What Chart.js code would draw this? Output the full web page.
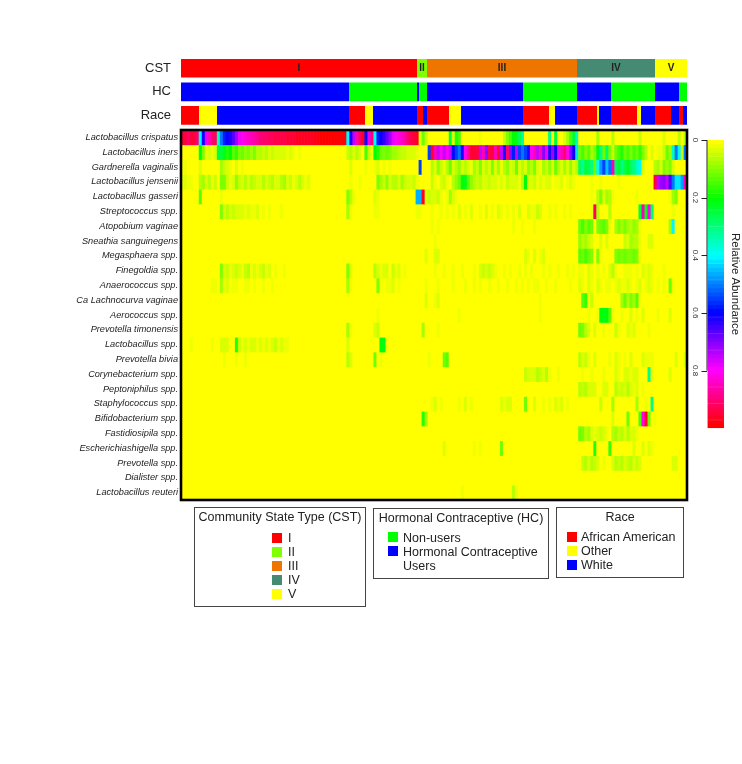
<!DOCTYPE html>
<html><head><meta charset="utf-8">
<script src="https://cdn.jsdelivr.net/npm/chart.js@4"></script>
<style>
html,body{margin:0;padding:0;background:#fff;width:742px;height:764px;overflow:hidden}
#page{position:relative;width:742px;height:764px;font-family:"Liberation Sans",Arial,sans-serif;color:#222;filter:blur(0.4px)}
canvas{position:absolute}
.box{position:absolute;box-sizing:border-box;border:1px solid #444;background:#fff}
.t{position:absolute;font-size:12.5px;line-height:14px;white-space:nowrap}
.s{position:absolute;width:10px;height:10px}
</style></head><body><div id="page">
<canvas id="annot" style="left:0px;top:0px" width="700" height="145"></canvas>
<canvas id="heat" style="left:0px;top:120px" width="700" height="390"></canvas>
<canvas id="bar" style="left:660px;top:120px" width="82" height="320"></canvas>
</div>
<script>
const taxa=["Lactobacillus crispatus","Lactobacillus iners","Gardnerella vaginalis","Lactobacillus jensenii","Lactobacillus gasseri","Streptococcus spp.","Atopobium vaginae","Sneathia sanguinegens","Megasphaera spp.","Finegoldia spp.","Anaerococcus spp.","Ca Lachnocurva vaginae","Aerococcus spp.","Prevotella timonensis","Lactobacillus spp.","Prevotella bivia","Corynebacterium spp.","Peptoniphilus spp.","Staphylococcus spp.","Bifidobacterium spp.","Fastidiosipila spp.","Escherichiashigella spp.","Prevotella spp.","Dialister spp.","Lactobacillus reuteri"];

// relative abundance (percent) per sample column
const crispatus=[95,95,90,95,95,90,40,60,78,85,90,92,35,50,58,60,62,66,72,78,80,82,84,85,87,88,90,90,
91,92,92,93,93,94,94,95,95,95,96,96,97,97,97,97,98,98,99,99,99,100,100,100,100,100,100,40,
60,75,85,92,97,60,78,90,40,58,60,63,68,72,78,80,82,84,87,90,93,95,97,3,12,5,0,0,
0,0,0,0,0,25,3,18,15,0,0,0,0,0,0,2,0,0,0,0,0,0,0,5,10,15,20,22,
27,33,0,0,0,0,0,0,0,0,30,0,25,0,0,4,8,15,25,35,0,0,0,0,0,0,8,0,
0,0,0,7,0,0,0,0,0,0,0,0,5,0,0,0,0,0,0,0,3,0,0,0,0,6,0,6];
const iners=[0,0,0,0,0,0,20,10,2,3,2,3,25,25,22,18,20,14,16,10,12,9,11,8,10,7,6,5,
6,4,5,3,4,3,3,2,3,2,1,2,1,1,0,0,0,0,0,0,0,0,0,0,0,0,0,5,
7,3,6,3,0,15,5,2,20,18,12,10,12,10,8,8,6,5,5,4,4,3,2,0,0,0,55,95,
85,75,80,75,80,75,60,55,50,62,80,88,95,95,95,75,85,70,93,95,85,95,75,62,90,70,58,75,
55,50,55,62,80,85,75,85,70,78,62,72,60,78,85,90,80,70,60,42,12,15,10,14,8,10,22,30,
12,28,10,5,12,15,18,12,15,10,15,12,17,10,6,0,3,0,2,2,5,12,8,35,50,40,5,50];
const gardnerella=[0,2,0,0,0,0,4,1,1,1,0,1,0,8,5,3,2,1,3,1,2,1,1,1,1,1,1,1,
1,1,1,1,1,0,1,1,0,1,0,0,1,0,0,0,0,0,0,0,0,0,0,0,0,0,0,1,
3,1,1,1,0,2,1,0,2,3,1,2,1,2,1,1,1,1,1,1,1,0,0,55,0,0,0,6,
4,9,5,2,7,12,3,6,9,3,7,4,2,8,5,11,3,7,3,10,4,8,2,6,9,3,5,12,
4,7,3,9,6,11,3,2,8,5,9,4,12,6,3,8,4,9,3,7,28,32,25,27,30,12,40,48,
55,45,52,85,28,24,30,26,22,28,30,35,40,3,0,0,0,6,8,3,10,8,11,3,0,0,0,0];
const jensenii=[2,3,2,2,1,0,6,8,4,7,2,5,0,10,11,5,2,3,9,5,4,7,4,6,5,3,4,6,
4,5,7,4,3,6,8,3,5,2,4,6,3,2,4,1,1,0,0,0,1,0,0,0,0,0,0,1,
2,1,1,2,0,0,1,1,1,10,8,5,9,4,7,6,4,8,5,4,3,5,2,0,0,0,0,5,
2,1,3,5,2,1,6,9,12,20,22,14,9,7,5,7,4,3,5,3,4,2,3,2,5,3,4,3,
2,6,20,4,3,5,2,4,2,3,3,1,2,2,3,1,2,3,2,1,0,1,0,1,2,0,1,2,
1,0,1,0,1,2,1,0,0,1,0,0,0,0,0,0,0,95,75,72,70,75,65,50,42,42,48,85];
const gasseri=[1,0,0,1,0,0,14,1,0,1,0,1,0,2,1,1,1,0,1,1,0,1,1,0,0,1,0,0,
0,1,0,0,1,0,0,0,0,0,0,0,0,0,0,0,0,0,0,0,0,0,0,0,0,0,0,10,
6,2,1,0,0,1,0,1,3,2,1,1,1,0,1,0,1,0,0,0,0,1,47,47,97,3,5,4,
3,5,2,1,2,8,4,2,0,1,1,0,1,0,0,1,0,1,0,1,0,0,0,1,0,0,1,0,
0,1,0,0,0,1,0,0,1,0,0,0,1,0,0,0,0,0,1,0,0,0,1,0,2,0,6,10,
3,8,6,2,1,1,1,0,1,1,0,2,1,0,1,0,0,0,1,1,0,1,2,8,10,1,0,0];
const streptococcus=[0,0,0,0,0,0,1,0,0,0,0,0,0,10,3,6,3,5,4,3,3,2,3,2,2,3,1,2,
1,2,1,1,1,2,1,1,0,0,1,0,0,0,0,0,0,0,0,0,0,0,0,0,0,0,0,8,
2,1,1,1,1,0,1,0,2,2,1,1,1,1,1,1,0,1,0,0,0,0,2,2,1,0,0,2,
1,0,2,1,2,1,2,1,3,0,2,1,4,1,1,2,1,3,1,2,1,4,2,1,2,1,2,1,
3,1,1,4,2,2,5,3,1,1,2,1,2,1,1,2,1,2,1,1,1,1,0,1,2,92,6,0,
0,0,6,1,0,0,0,0,0,1,0,0,25,85,22,80,28,1,0,1,1,0,0,2,1,0,0,0];
const atopobium=[0,0,0,0,0,0,0,0,0,0,0,0,0,1,0,0,0,0,0,0,0,0,0,0,0,0,0,0,
0,0,0,0,0,0,0,0,0,0,0,0,0,0,0,0,0,0,0,0,0,0,0,0,0,0,0,1,
0,0,0,0,0,0,0,0,1,0,0,0,0,0,0,0,0,0,0,0,0,0,0,0,0,0,0,2,
1,2,1,0,0,0,1,0,0,0,0,0,1,0,0,0,0,0,0,0,0,0,0,1,0,0,2,1,
1,2,0,1,1,2,0,0,0,0,0,0,0,1,0,0,0,0,0,0,12,15,10,13,12,1,10,12,
14,10,2,0,8,10,8,10,8,7,9,8,2,0,0,0,0,0,0,1,0,0,8,40,1,0,0,0];
const sneathia=[0,0,0,0,0,0,0,0,0,0,0,0,0,0,1,0,0,0,0,0,0,0,0,0,0,0,0,0,
0,0,0,0,0,0,0,0,0,0,0,0,0,0,0,0,0,0,0,0,0,0,0,0,0,0,0,1,
0,0,0,0,0,0,0,0,0,1,0,0,0,0,0,0,0,0,0,0,0,0,0,0,0,0,0,1,
2,1,1,1,1,0,0,0,0,0,0,1,0,0,0,1,0,0,0,0,0,0,0,0,0,0,1,0,
0,0,0,1,0,0,0,1,0,0,0,0,1,0,0,1,0,0,0,0,9,7,8,5,3,1,1,4,
1,3,0,1,0,1,1,5,4,8,6,7,2,1,0,4,3,0,0,0,1,0,0,0,0,0,0,0];
const megasphaera=[0,0,0,0,0,0,0,0,0,0,0,0,0,0,0,0,0,0,0,0,0,0,0,0,0,0,0,0,
0,0,0,0,0,0,0,0,0,0,0,0,0,0,0,0,0,0,0,0,0,0,0,0,0,0,0,0,
0,0,0,0,0,0,0,0,0,0,0,0,0,0,0,0,0,0,0,0,0,0,0,0,0,4,0,0,
3,4,0,0,0,0,0,0,0,0,0,0,0,0,0,0,0,0,0,0,0,0,0,0,0,0,0,0,
0,0,3,2,0,3,0,2,3,0,1,0,0,0,0,0,0,0,0,0,14,12,15,12,10,1,10,2,
0,1,0,1,10,12,10,12,11,10,12,10,2,0,0,0,0,0,0,0,0,0,0,0,0,0,0,0];
const finegoldia=[1,0,0,0,0,0,0,0,0,0,0,1,1,10,3,5,2,4,5,3,2,5,6,2,3,2,4,5,
2,3,1,2,1,1,2,1,1,0,0,0,0,0,0,0,0,0,0,0,0,0,0,0,0,0,0,10,
3,1,0,1,0,1,0,1,6,4,2,3,4,1,5,2,3,1,2,1,1,1,0,0,1,0,0,1,
2,1,1,2,1,1,2,1,1,2,1,1,1,2,1,4,5,3,5,3,2,1,1,2,1,2,1,1,
2,1,2,1,2,1,1,1,2,1,2,1,1,2,1,1,2,1,2,1,2,2,1,3,2,1,2,1,
2,1,3,6,2,1,1,2,2,2,1,2,1,3,2,3,2,1,1,1,2,1,1,0,0,0,0,0];
const anaerococcus=[0,0,0,0,0,0,0,0,0,0,2,2,1,8,2,3,1,2,2,1,1,2,2,1,2,1,1,2,
1,1,2,1,1,1,1,1,1,0,1,0,0,0,0,0,0,0,0,0,0,0,0,0,0,0,0,8,
2,1,0,0,0,1,0,0,1,10,2,1,2,2,3,1,2,1,1,1,1,1,0,0,1,2,0,1,
1,2,1,1,1,1,2,1,1,1,2,1,1,2,1,2,1,1,2,1,1,2,1,1,2,1,1,2,
1,2,1,2,1,2,2,1,1,2,1,1,2,1,1,1,1,2,1,1,3,2,1,4,2,1,4,2,
1,2,2,1,2,3,2,2,3,2,1,2,3,1,2,3,2,1,2,1,2,1,12,2,0,0,0,0];
const lachnocurva=[0,0,0,0,0,0,0,0,0,0,0,0,0,0,0,0,0,0,0,0,0,0,0,0,0,0,0,0,
0,0,0,0,0,0,0,0,0,0,0,0,0,0,0,0,0,0,0,0,0,0,0,0,0,0,0,0,
0,0,0,0,0,0,0,0,0,0,0,0,0,0,0,0,0,0,0,0,0,0,0,0,0,4,0,0,
2,3,0,0,0,0,0,0,0,0,0,0,0,0,0,0,0,0,0,0,0,0,0,0,0,0,0,0,
0,0,1,0,1,0,0,2,0,0,0,0,0,0,0,1,0,0,0,0,1,14,16,2,5,1,0,0,
0,0,0,1,0,0,8,12,7,10,8,14,2,0,0,0,0,0,0,0,0,0,0,0,0,0,0,0];
const aerococcus=[0,0,0,0,0,0,0,0,0,0,0,0,0,0,0,0,0,0,0,0,0,0,0,0,0,0,0,0,
0,0,0,0,0,0,0,0,0,0,0,0,0,0,0,0,0,0,0,0,0,0,0,0,0,0,0,1,
1,0,0,0,0,0,0,0,1,2,0,0,0,0,0,0,0,0,0,0,0,0,0,0,0,1,1,0,
1,1,0,0,0,0,0,0,2,0,0,0,1,0,1,1,1,0,0,0,0,0,1,0,0,0,0,0,
0,0,1,0,1,0,1,2,1,0,0,0,0,0,0,0,0,0,0,0,1,1,1,2,1,1,2,20,
22,20,14,2,1,1,2,1,1,3,1,2,1,3,1,1,0,1,2,0,1,0,3,1,1,0,1,0];
const timonensis=[0,0,0,0,0,0,0,0,0,0,0,0,0,0,0,0,0,0,0,0,0,0,0,0,0,0,0,0,
0,0,0,0,0,0,0,0,0,0,0,0,0,0,0,0,0,0,0,0,0,0,0,0,0,0,0,8,
2,0,0,0,0,0,0,0,3,5,0,0,0,0,0,0,0,0,0,0,0,0,0,0,8,0,0,0,
1,2,1,0,0,1,0,0,0,0,0,0,0,0,1,0,0,0,0,0,0,0,1,0,0,0,0,0,
0,1,0,0,0,1,0,0,0,0,0,1,0,0,0,0,0,0,0,0,12,10,6,4,1,3,1,0,
2,0,1,1,5,2,1,1,3,2,4,1,0,1,1,2,0,0,1,0,0,0,0,0,0,0,0,0];
const lactoSpp=[0,0,0,2,0,0,0,1,0,0,2,0,0,3,4,3,1,1,18,5,2,3,2,4,3,2,4,2,
4,2,3,5,2,3,2,2,1,1,0,0,0,0,0,0,0,0,0,0,0,0,0,0,0,0,0,3,
1,0,1,0,0,0,0,0,0,1,20,22,2,1,1,0,0,0,0,0,0,0,0,0,0,0,0,0,
0,0,0,0,0,0,0,0,0,0,0,0,0,0,0,0,0,0,0,0,0,0,0,0,0,0,0,0,
0,0,0,0,0,0,0,0,0,0,0,0,0,0,0,0,0,0,0,0,0,0,0,0,0,0,0,0,
0,0,0,0,0,0,0,0,0,0,0,0,0,0,0,0,0,0,0,0,0,0,0,0,0,0,0,0];
const bivia=[0,0,0,0,0,0,0,0,0,0,0,0,0,1,2,0,1,0,2,1,0,2,1,1,0,1,0,0,
0,0,0,0,0,0,0,0,0,0,0,0,0,0,0,0,0,0,0,0,0,0,0,0,0,0,0,6,
4,0,1,0,0,0,0,0,12,1,2,1,1,0,0,0,0,0,0,0,0,0,1,0,0,0,2,0,
1,1,1,12,14,1,0,0,0,0,0,0,0,0,0,0,0,0,0,0,1,0,0,0,0,0,0,1,
0,1,0,0,1,0,0,1,0,0,0,1,0,0,0,0,0,0,0,0,6,4,5,2,1,3,1,0,
1,1,2,0,3,2,1,2,1,3,1,1,1,3,2,2,2,0,0,1,0,0,1,0,3,0,0,4];
const corynebacterium=[0,0,0,0,0,0,0,0,0,0,0,0,0,0,0,0,0,0,0,0,0,0,0,0,0,0,0,0,
0,0,0,0,0,0,0,0,0,0,0,0,0,0,0,0,0,0,0,0,0,0,0,0,0,0,0,0,
0,0,0,0,0,0,0,0,0,0,0,0,0,0,0,0,0,0,0,0,0,0,0,0,0,0,0,0,
0,0,0,0,0,0,0,0,0,0,0,0,0,0,0,0,0,0,0,0,0,0,1,0,1,1,1,0,
1,1,5,3,4,3,6,5,4,6,2,0,1,2,0,0,0,0,0,0,1,2,1,1,2,1,1,1,
2,1,1,1,3,2,1,3,3,2,4,3,1,1,1,30,2,1,0,0,0,1,3,0,0,0,0,0];
const peptoniphilus=[0,0,0,0,0,0,0,0,0,0,0,0,0,0,0,0,0,0,0,0,0,0,0,0,0,0,0,0,
0,0,0,0,0,0,0,0,0,0,0,0,0,0,0,0,0,0,0,0,0,0,0,0,0,0,0,0,
0,0,0,0,0,0,0,0,0,0,0,0,0,0,0,0,0,0,0,0,0,0,0,0,1,0,0,0,
0,0,0,0,0,0,0,0,0,0,0,0,0,0,0,0,0,0,0,0,0,0,0,0,1,0,0,0,
0,0,1,0,1,0,0,0,1,0,1,0,0,0,1,0,0,0,0,1,7,5,7,4,3,3,1,1,
4,3,1,1,6,4,5,3,6,4,2,3,1,2,1,1,0,0,0,0,0,0,0,0,0,0,0,0];
const staphylococcus=[0,0,0,0,0,0,0,0,0,0,0,0,0,0,0,0,0,0,0,0,0,0,0,0,0,0,0,0,
0,0,0,0,0,0,0,0,0,0,0,0,0,0,0,0,0,0,0,0,0,0,0,0,0,0,0,0,
0,0,0,0,0,0,0,0,0,0,0,0,0,0,0,0,0,0,0,0,0,0,0,0,0,0,0,2,
3,1,2,0,0,0,0,0,2,1,3,1,2,0,0,0,0,0,0,0,0,0,3,2,4,3,0,0,
0,0,12,0,0,3,1,0,2,0,2,0,3,2,3,0,2,0,0,0,0,0,1,0,0,0,0,5,
0,0,0,8,0,0,0,0,0,1,1,8,1,1,2,1,30,1,0,0,0,0,0,0,0,0,0,0];
const bifidobacterium=[0,0,0,0,0,0,0,0,0,0,0,0,0,0,0,0,0,0,0,0,0,0,0,0,0,0,0,0,
0,0,0,0,0,0,0,0,0,0,0,0,0,0,0,0,0,0,0,0,0,0,0,0,0,0,0,0,
0,0,0,0,0,0,0,0,0,0,0,0,0,0,0,0,0,0,0,0,0,0,0,0,18,8,0,0,
0,0,0,0,0,0,0,0,0,0,0,0,0,0,0,0,0,0,0,0,0,0,0,0,0,0,0,0,
0,0,0,0,0,0,0,0,0,0,0,0,0,0,0,0,0,0,0,0,0,0,0,0,0,0,0,0,
0,0,0,3,0,0,0,0,12,0,0,0,15,80,97,12,1,2,0,0,0,0,0,0,1,0,0,0];
const fastidiosipila=[0,0,0,0,0,0,0,0,0,0,0,0,0,0,0,0,0,0,0,0,0,0,0,0,0,0,0,0,
0,0,0,0,0,0,0,0,0,0,0,0,0,0,0,0,0,0,0,0,0,0,0,0,0,0,0,0,
0,0,0,0,0,0,0,0,0,0,0,0,0,0,0,0,0,0,0,0,0,0,0,0,0,0,0,0,
0,0,0,0,0,0,0,0,0,0,0,0,0,0,0,0,0,0,0,0,0,0,0,0,0,0,0,0,
0,0,0,0,0,0,0,0,0,0,0,0,0,0,0,0,0,0,0,0,12,10,7,8,4,2,3,5,
3,2,1,6,8,5,7,4,6,3,3,2,0,0,0,0,0,0,0,0,0,0,0,0,0,0,0,0];
const escherichia=[0,0,0,0,0,0,0,0,0,0,0,0,0,0,0,0,0,0,0,0,0,0,0,0,0,0,0,0,
0,0,0,0,0,0,0,0,0,0,0,0,0,0,0,0,0,0,0,0,0,0,0,0,0,0,0,0,
0,0,0,0,0,0,0,0,0,0,0,0,0,0,0,0,0,0,0,0,0,0,0,0,0,0,0,0,
0,0,0,3,0,0,0,0,0,0,0,0,0,2,0,2,0,0,0,0,0,0,12,0,0,0,0,0,
0,0,0,0,0,0,0,0,0,0,0,0,0,0,0,0,0,0,0,0,0,0,0,0,0,18,0,0,
0,0,17,0,0,0,0,0,0,0,3,0,0,3,0,3,2,0,0,0,0,0,0,0,0,0,0,0];
const prevotellaSpp=[0,0,0,0,0,0,0,0,0,0,0,0,0,0,0,0,0,0,0,0,0,0,0,0,0,0,0,0,
0,0,0,0,0,0,0,0,0,0,0,0,0,0,0,0,0,0,0,0,0,0,0,0,0,0,0,0,
0,0,0,0,0,0,0,0,0,0,0,0,0,0,0,0,0,0,0,0,0,0,0,0,0,0,0,0,
0,0,0,0,0,0,0,0,0,0,0,0,0,0,0,0,0,0,0,0,0,0,1,0,0,0,0,0,
0,0,0,0,0,0,0,0,0,0,0,0,0,0,0,0,0,0,0,0,1,5,7,4,6,5,3,0,
2,1,0,3,6,5,7,4,5,6,3,5,4,1,0,0,0,0,0,0,0,0,0,3,3,0,0,0];
const dialister=[0,0,0,0,0,0,0,0,0,0,0,0,0,0,0,0,0,0,0,0,0,0,0,0,0,0,0,0,
0,0,0,0,0,0,0,0,0,0,0,0,0,0,0,0,0,0,0,0,0,0,0,0,0,0,0,0,
0,0,0,0,0,0,0,0,0,0,0,0,0,0,0,0,0,0,0,0,0,0,0,0,0,0,0,0,
0,0,0,0,0,0,0,0,0,0,0,0,0,0,0,0,0,0,0,0,0,0,1,0,0,0,0,0,
0,0,0,0,0,0,0,0,0,0,0,0,0,0,0,0,0,0,0,0,1,1,1,1,1,1,1,0,
1,1,0,1,1,1,1,1,1,1,1,1,1,0,0,0,0,0,0,0,0,0,0,0,0,0,0,0];
const reuteri=[0,0,0,0,0,0,0,0,0,0,0,0,0,0,0,0,1,0,0,0,0,0,0,0,0,0,0,0,
0,0,0,0,0,0,0,0,0,0,0,0,0,0,0,0,0,0,0,0,0,0,0,0,0,0,0,0,
0,0,0,0,0,0,0,0,0,0,0,0,0,0,0,0,0,0,0,0,0,0,0,0,0,0,0,0,
0,0,0,0,0,0,0,0,0,2,0,0,0,1,0,0,0,0,0,0,0,0,0,0,0,0,7,2,
0,0,0,0,0,0,0,0,0,0,0,0,0,0,0,0,0,0,0,0,0,0,0,0,0,0,0,0,
0,0,0,0,0,0,0,0,0,0,0,0,0,0,0,0,0,0,0,0,0,0,0,0,0,0,0,0];
const abundance=[crispatus,iners,gardnerella,jensenii,gasseri,streptococcus,atopobium,sneathia,megasphaera,finegoldia,anaerococcus,lachnocurva,aerococcus,timonensis,lactoSpp,bivia,corynebacterium,peptoniphilus,staphylococcus,bifidobacterium,fastidiosipila,escherichia,prevotellaSpp,dialister,reuteri];

// sample annotations: consecutive runs of samples
const cstLevels=["I","II","III","IV","V"];
const cstCounts=[118,5,75,39,16];
const hcLevels=["HCU","NU","HCU","NU","HCU","NU","HCU","NU","HCU","NU"];
const hcCounts=[84,34,1,4,48,27,17,22,12,4];
const raceLevels=["AA","O","W","AA","O","W","AA","W","AA","O","W","AA","O","W","AA","O","W","AA","O","W","AA","W","AA","W"];
const raceCounts=[9,9,66,8,4,22,3,2,11,6,31,13,3,11,10,1,6,13,2,7,8,4,2,2];

const cstColors={I:"#ff0000",II:"#7fff00",III:"#ee7600",IV:"#458b74",V:"#ffff00"};
const hcColors={NU:"#00ff00",HCU:"#0000ff"};
const raceColors={AA:"#ff0000",O:"#ffff00",W:"#0000ff"};

const colorTicks=[0,0.2,0.4,0.6,0.8];
const colorBins=70;

const FONT='"Liberation Sans",Arial,sans-serif';
Chart.defaults.font.family=FONT;
Chart.defaults.animation=false;
Chart.defaults.responsive=false;
Chart.defaults.plugins.legend.display=false;
Chart.defaults.plugins.tooltip.enabled=false;

const stops=[[255,255,0],[0,255,0],[0,255,255],[0,0,255],[255,0,255],[255,0,0]];
function ramp(v){
  const b=Math.min(colorBins-1,Math.floor(v*colorBins))/(colorBins-1);
  const p=b*5,i=Math.min(4,Math.floor(p)),f=p-i;
  const c=stops[i].map((s,k)=>Math.round(s+(stops[i+1][k]-s)*f));
  return `rgb(${c[0]},${c[1]},${c[2]})`;
}

// annotation tracks
const tracks=["CST","HC","Race"];
function runsToDatasets(levels,counts,colors,row){
  return levels.map((l,i)=>{const d=[0,0,0];d[row]=counts[i];
    return {label:l,data:d,backgroundColor:colors[l],stack:"a",barPercentage:0.79,categoryPercentage:1,borderWidth:0};});
}
const totalUnits=cstCounts.reduce((a,b)=>a+b,0);
new Chart(document.getElementById("annot"),{
  type:"bar",
  data:{labels:tracks,datasets:[...runsToDatasets(cstLevels,cstCounts,cstColors,0),...runsToDatasets(hcLevels,hcCounts,hcColors,1),...runsToDatasets(raceLevels,raceCounts,raceColors,2)]},
  options:{indexAxis:"y",layout:{padding:{top:56.5,bottom:1.3,right:13}},
    scales:{
      x:{stacked:true,min:0,max:totalUnits,display:false},
      y:{type:"category",stacked:true,offset:true,grid:{display:false,drawTicks:false},border:{display:false},
         afterFit:s=>{s.width=181},
         ticks:{color:"#222",padding:10,font:{size:13}}}
    }},
  plugins:[{id:"cstText",afterDatasetsDraw(ch){
    const c=ch.ctx,x=ch.scales.x,y=ch.scales.y;let a=0;
    c.save();c.fillStyle="#222";c.font='bold 10px '+FONT;c.textAlign="center";c.textBaseline="middle";
    cstLevels.forEach((l,i)=>{c.fillText(l,x.getPixelForValue(a+cstCounts[i]/2),y.getPixelForValue(0));a+=cstCounts[i];});
    c.restore();
  }}]
});

// heatmap
const columns=crispatus.map((_,i)=>i);
new Chart(document.getElementById("heat"),{
  type:"bar",
  data:{labels:columns,datasets:taxa.map((name,r)=>({
    label:name,
    data:abundance[r].map((v,i)=>({x:i,y:1,v:v/100})),
    backgroundColor:abundance[r].map(v=>ramp(v/100)),
    barPercentage:1,categoryPercentage:1,borderWidth:0
  }))},
  options:{layout:{padding:{top:10,bottom:10,right:13}},
    scales:{
      x:{stacked:true,display:false},
      y:{stacked:true,reverse:true,min:0,max:taxa.length,grid:{display:false,drawTicks:false},border:{display:false},
         afterFit:s=>{s.width=181},
         afterBuildTicks:s=>{s.ticks=taxa.map((_,i)=>({value:i+0.5}))},
         ticks:{autoSkip:false,color:"#222",padding:3,font:{size:9.2,style:"italic"},
           callback:v=>taxa[Math.floor(v)]}}
    }},
  plugins:[{id:"frame",
    beforeDatasetsDraw(ch){const a=ch.chartArea,c=ch.ctx;c.save();c.fillStyle="#ffff00";c.fillRect(a.left,a.top,a.width,a.height);c.restore();},
    afterDatasetsDraw(ch){const a=ch.chartArea,c=ch.ctx;c.save();c.strokeStyle="#000";c.lineWidth=2.6;c.strokeRect(a.left,a.top,a.width,a.height);c.restore();}
  }]
});

// colour key
const binValues=[];for(let i=0;i<colorBins;i++)binValues.push(1/colorBins);
new Chart(document.getElementById("bar"),{
  type:"bar",
  data:{labels:["key"],datasets:binValues.map((w,i)=>({data:[w],backgroundColor:ramp((i+0.5)/colorBins),borderColor:ramp((i+0.5)/colorBins),borderWidth:0.5,borderSkipped:false,barPercentage:1,categoryPercentage:1}))},
  options:{layout:{padding:{top:20,bottom:9.5}},
    scales:{
      x:{stacked:true,display:false},
      y:{stacked:true,reverse:true,min:0,max:1,position:"left",
         grid:{display:false,drawTicks:false},border:{display:false},
         afterFit:s=>{s.width=47.5},
         afterBuildTicks:s=>{s.ticks=colorTicks.map(v=>({value:v}))},
         ticks:{autoSkip:false,minRotation:-90,maxRotation:-90,crossAlign:"center",padding:7,color:"#333",font:{size:8},callback:v=>String(v)}},
      y2:{reverse:true,min:0,max:1,position:"right",grid:{display:false},border:{display:false},
         afterFit:s=>{s.width=18},
         ticks:{display:false},
         title:{display:true,text:"Relative Abundance",color:"#222",font:{size:11.4},padding:{top:0,bottom:0}}}
    }},
  plugins:[{id:"axisLine",afterDraw(ch){
    const c=ch.ctx,y=ch.scales.y,a=ch.chartArea;c.save();c.strokeStyle="#222";c.lineWidth=1;c.beginPath();
    c.moveTo(a.left-0.5,y.getPixelForValue(0));c.lineTo(a.left-0.5,y.getPixelForValue(0.8));
    colorTicks.forEach(v=>{const p=Math.round(y.getPixelForValue(v))+0.5;c.moveTo(a.left-6,p);c.lineTo(a.left-0.5,p);});
    c.stroke();c.restore();
  }}]
});

// legends
const page=document.getElementById("page");
function el(cls,css,text){const d=document.createElement("div");d.className=cls;d.style.cssText=css;if(text!=null)d.textContent=text;page.appendChild(d);return d;}
function legend(x,y,w,h,title,swX,txX,items,swY,txY){
  el("box",`left:${x}px;top:${y}px;width:${w}px;height:${h}px`);
  el("t",`left:${x}px;width:${w}px;text-align:center;top:${y+3}px`,title);
  items.forEach((it,i)=>{
    el("s",`left:${swX}px;top:${swY[i]}px;background:${it[1]}`);
    el("t",`left:${txX}px;top:${txY[i]}px`,it[0]);
  });
}
legend(194,507,172,100,"Community State Type (CST)",272,288,
  cstLevels.map(l=>[l,cstColors[l]]),[533,547,561,575,589],[531,545,559,573,587]);
legend(373,508,176,71,"Hormonal Contraceptive (HC)",388,403,
  [["Non-users",hcColors.NU],["Hormonal Contraceptive",hcColors.HCU]],[532,546],[531,545]);
el("t","left:403px;top:559px","Users");
legend(556,507,128,71,"Race",567,581,
  [["African American",raceColors.AA],["Other",raceColors.O],["White",raceColors.W]],[532,546,560],[530,544,558]);
</script>
</body></html>
